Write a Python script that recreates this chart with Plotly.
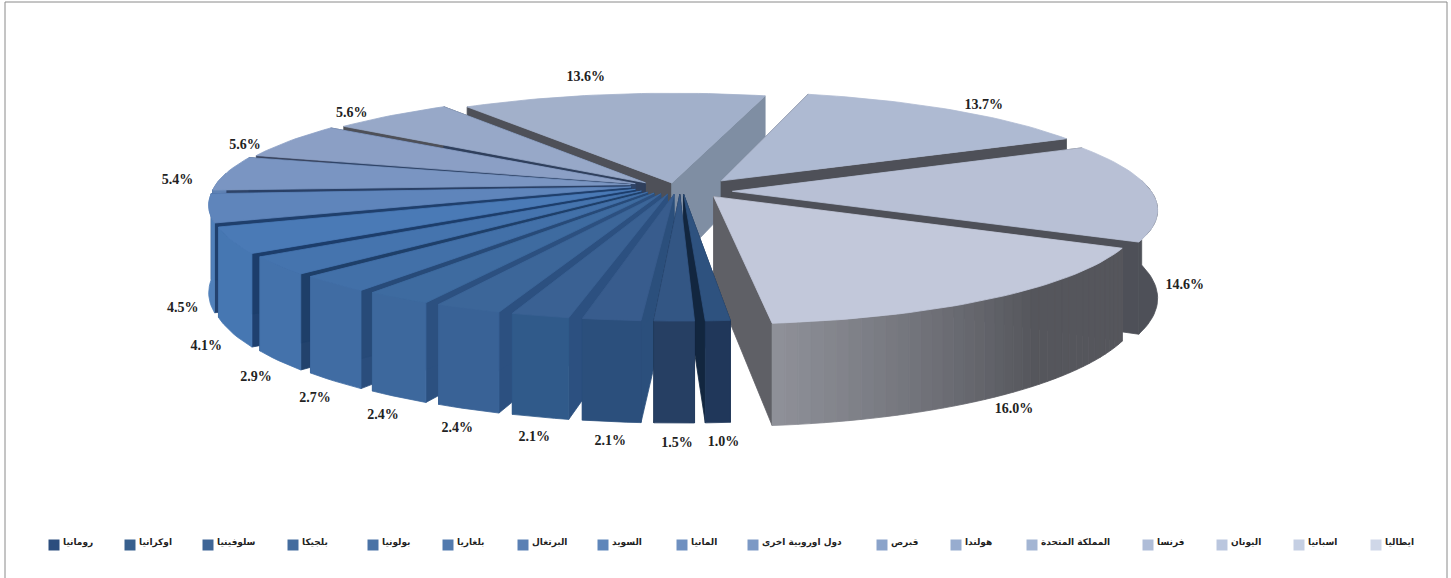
import math
import plotly.graph_objects as go

categories = ["ايطاليا", "اسبانيا", "اليونان", "فرنسا", "المملكة المتحدة", "هولندا", "قبرص",
              "دول اوروبية اخرى", "المانيا", "السويد", "البرتغال", "بلغاريا", "بولونيا",
              "بلجيكا", "سلوفينيا", "اوكرانيا", "رومانيا"]
values = [16.0, 14.6, 13.7, 13.6, 5.6, 5.6, 5.4, 4.5, 4.1, 2.9, 2.7, 2.4, 2.4, 2.1, 2.1, 1.5, 1.0]

top_colors = ["#c2c8da", "#b8c0d5", "#aebad2", "#a2b0ca", "#97a8c8", "#8b9fc5", "#7a95c2", "#5f85bb",
              "#4a7ab6", "#4574ae", "#4270a8", "#3e6ba0", "#3c6699", "#3a6193", "#385c8d", "#335684", "#2e527f"]
wall_colors = ["#55565c", "#4e5058", "#4e5058", "#4e5058", "#5a6f92", "#5a78a5", "#5f82b4", "#5080ba",
               "#4677b2", "#4472ab", "#406ca3", "#3d689d", "#396296", "#305a8a", "#2b4f7c", "#263f63", "#20375a"]
edge_colors = ["#5f6066", "#4e5058", "#4e5058", "#7f8ea3", "#2f3f5c", "#2f4468", "#2a4066", "#1f3f6c",
               "#1c3d6b", "#1e3f69", "#274a78", "#2c5080", "#2c5080", "#2c5080", "#2b4f7c", "#12263f", "#12263f"]
end_colors = ["#5f6066", "#4e5058", "#4e5058", "#4e5058", "#4e5058", "#3a4560", "#2f4468", "#24426f",
              "#1f406f", "#22426c", "#2a4d7c", "#2c5080", "#2c5080", "#2c5080", "#2b4f7c", "#12263f", "#12263f"]
legend_colors = ["#cfd7e8", "#c5cfe3", "#bac6de", "#afbdd8", "#a3b5d3", "#97accf", "#8aa3ca", "#7c99c5",
                 "#6f90c0", "#5f86ba", "#5a80b4", "#527aae", "#4a73a6", "#446c9e", "#3e6596", "#38608e", "#2c4e7e"]
pull_x = [0.08, 0.125, 0.10, -0.02]
pull_y = [-0.11, -0.06, 0.04, 0.02]
FAN_PULL, FAN_Y_FRONT, FAN_Y_BACK = 0.12, 0.75, 0.25
FAN_GAP = 0.7
legend_x = [1376, 1299, 1222, 1148, 1032, 956, 882, 753, 682, 603, 523, 448, 373, 293, 208, 130, 54]

W, H = 1451, 578
CX, CY, RX, RY, P, DEPTH = 680.0, 185.0, 415.0, 104.0, 0.153, 85.0
START = -84.0


def project(x, y, z=0.0):
    s = 1.0 / (1.0 + P * y)
    return CX + RX * x * s, CY - RY * y * s + DEPTH * z * s


def hexmix(c1, c2, t):
    a = [int(c1[i:i + 2], 16) for i in (1, 3, 5)]
    b = [int(c2[i:i + 2], 16) for i in (1, 3, 5)]
    return "#" + "".join(f"{round(u + (v - u) * t):02x}" for u, v in zip(a, b))


fig = go.Figure()


def poly(pts, color):
    xs = [p[0] for p in pts] + [pts[0][0]]
    ys = [p[1] for p in pts] + [pts[0][1]]
    fig.add_trace(go.Scatter(x=xs, y=ys, mode="lines", fill="toself", fillcolor=color,
                             line=dict(color=color, width=0.8), hoverinfo="skip", showlegend=False))


total = sum(values)
slices = []
a = START
for i, v in enumerate(values):
    span = 360.0 * v / total
    slices.append((i, a, a + span))
    a += span


def offset(i, mid):
    if i < len(pull_x):
        return pull_x[i], pull_y[i]
    sm = math.sin(mid)
    return FAN_PULL * math.cos(mid), FAN_PULL * (FAN_Y_FRONT if sm < 0 else FAN_Y_BACK) * sm


order = sorted(slices, key=lambda s: -math.sin(math.radians((s[1] + s[2]) / 2)))

for i, a0, a1 in order:
    mid = math.radians((a0 + a1) / 2)
    ox, oy = offset(i, mid)
    if i >= len(pull_x):
        a1 = a1 - FAN_GAP
    n = max(3, int((a1 - a0) / 1.5))
    ang = [math.radians(a0 + (a1 - a0) * k / n) for k in range(n + 1)]
    rim = [(ox + math.cos(t), oy + math.sin(t)) for t in ang]
    tip = (ox, oy)
    # radial walls
    for pt, col in ((rim[-1], end_colors[i]), (rim[0], edge_colors[i])):
        poly([project(*tip), project(*pt), project(pt[0], pt[1], 1), project(tip[0], tip[1], 1)], col)
    # outer wall, only the arc that faces the viewer
    front = [k for k in range(n + 1) if math.sin(ang[k]) < 0.12]
    if len(front) > 1:
        if i == 0:
            for k in front[:-1]:
                col = hexmix("#8e9098", wall_colors[0], min(1.0, k / (n * 0.6)))
                p, q = rim[k], rim[k + 1]
                poly([project(*p), project(*q), project(q[0], q[1], 1), project(p[0], p[1], 1)], col)
        else:
            arc = [rim[k] for k in front]
            poly([project(*p) for p in arc] + [project(p[0], p[1], 1) for p in reversed(arc)], wall_colors[i])
    # top
    poly([project(*tip)] + [project(*r) for r in rim], top_colors[i])

# percentage labels
lx, ly, lt = [], [], []
for i, a0, a1 in slices:
    mid = math.radians((a0 + a1) / 2)
    c, s = math.cos(mid), math.sin(mid)
    ox, oy = offset(i, mid)
    R = 1.06
    z = 1.0 if s < -0.15 else (0.9 if s < 0 else 0.0)
    x, y = project(ox + R * c, oy + R * s, z)
    if s < 0:
        y += 10
        if i == 0:
            y -= 6
        if i == 1:
            x += 8
            y += 6
    else:
        y += 7 - 20 * s ** 4
        x += -24 if c < 0.3 else 20
    lx.append(x)
    ly.append(y)
    lt.append(f"{values[i]:.1f}%")
fig.add_trace(go.Scatter(x=lx, y=ly, mode="text", text=lt, hoverinfo="skip", showlegend=False,
                         textfont=dict(family="Liberation Serif", size=14, color="#222222", weight="bold")))

# legend
fig.add_trace(go.Scatter(x=legend_x, y=[545] * len(legend_x), mode="markers", hoverinfo="skip", showlegend=False,
                         marker=dict(symbol="square", size=11, color=legend_colors)))
fig.add_trace(go.Scatter(x=[v + 9 for v in legend_x], y=[543] * len(legend_x), mode="text", text=categories,
                         textposition="middle right", hoverinfo="skip", showlegend=False,
                         textfont=dict(family="DejaVu Sans", size=9, color="#222222", weight="bold")))

fig.update_layout(
    width=W, height=H, margin=dict(l=0, r=0, t=0, b=0), paper_bgcolor="white", plot_bgcolor="white",
    xaxis=dict(range=[0, W], visible=False, fixedrange=True),
    yaxis=dict(range=[H, 0], visible=False, fixedrange=True),
    shapes=[dict(type="rect", xref="x", yref="y", x0=5, x1=1447, y0=2, y1=600,
                 line=dict(color="#8a8a8a", width=1), fillcolor="rgba(0,0,0,0)")],
)
fig.write_html("out.html", config={"displayModeBar": False},
               post_script="document.body.style.margin='0';document.documentElement.style.overflow='hidden';")
